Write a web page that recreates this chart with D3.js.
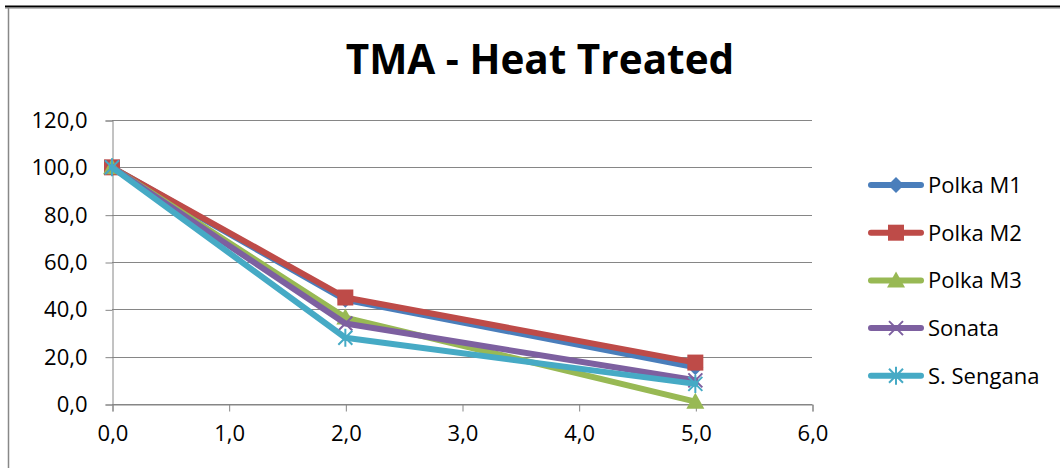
<!DOCTYPE html>
<html>
<head>
<meta charset="utf-8">
<script src="https://cdn.jsdelivr.net/npm/d3@7"></script>
<style>
  body { margin: 0; background: #fff; }
  text { font-family: "Open Sans", "Liberation Sans", sans-serif; fill: #000; }
</style>
</head>
<body>
<div id="chart"></div>
<script>
// data
var xValues = [0, 2, 5];
var seriesNames = ["Polka M1", "Polka M2", "Polka M3", "Sonata", "S. Sengana"];
var polkaM1 = [100, 44, 15.5];
var polkaM2 = [100, 45, 17.5];
var polkaM3 = [100, 36.5, 1];
var sonata = [100, 34, 10];
var sSengana = [100, 28, 8.5];
var xTicks = [0, 1, 2, 3, 4, 5, 6];
var yTicks = [0, 20, 40, 60, 80, 100, 120];

var colors = ["#4A7EBB", "#BE4B48", "#98B954", "#7D60A0", "#46AAC5"];
var markers = ["diamond", "square", "triangle", "cross", "star"];
var allSeries = [polkaM1, polkaM2, polkaM3, sonata, sSengana];

var width = 1060, height = 468;
var svg = d3.select("#chart").append("svg")
    .attr("width", width)
    .attr("height", height);

// chart frame
svg.append("line").attr("x1", 5).attr("x2", width).attr("y1", 6.5).attr("y2", 6.5)
    .attr("stroke", "#000").attr("stroke-width", 2);
svg.append("line").attr("x1", 5).attr("x2", width).attr("y1", 8.5).attr("y2", 8.5)
    .attr("stroke", "#bbb").attr("stroke-width", 1);
svg.append("line").attr("x1", 8.5).attr("x2", 8.5).attr("y1", 8).attr("y2", height)
    .attr("stroke", "#888").attr("stroke-width", 1.5);

// title
svg.append("text")
    .attr("x", 540).attr("y", 74)
    .attr("text-anchor", "middle")
    .style("font-size", "40.5px")
    .style("font-weight", "bold")
    .text("TMA - Heat Treated");

// scales
var x = d3.scaleLinear().domain([0, 6]).range([112, 812]);
var y = d3.scaleLinear().domain([0, 120]).range([404, 120]);
var fmt = function (d) { return d3.format(".1f")(d).replace(".", ","); };

// gridlines
svg.append("g").selectAll("line").data(yTicks).enter().append("line")
    .attr("x1", x(0)).attr("x2", x(6))
    .attr("y1", function (d) { return Math.round(y(d)) + 0.5; })
    .attr("y2", function (d) { return Math.round(y(d)) + 0.5; })
    .attr("stroke", "#868686").attr("stroke-width", 1);

// y axis
var yAxis = svg.append("g")
    .attr("transform", "translate(" + (x(0) + 0.5) + ",0.5)")
    .call(d3.axisLeft(y).tickValues(yTicks).tickFormat(fmt).tickSize(7).tickPadding(18));
// x axis
var xAxis = svg.append("g")
    .attr("transform", "translate(0.5," + (y(0) + 0.5) + ")")
    .call(d3.axisBottom(x).tickValues(xTicks).tickFormat(fmt).tickSize(7).tickPadding(11));

[yAxis, xAxis].forEach(function (ax) {
    ax.select(".domain").attr("stroke", "#868686");
    ax.selectAll(".tick line").attr("stroke", "#868686");
    ax.selectAll("text").style("font-size", "22px").attr("fill", "#000")
        .style("font-family", "'Open Sans', sans-serif");
});
xAxis.selectAll("text").attr("dy", "0.85em");

// marker drawing
function drawMarker(g, type, color) {
    if (type === "diamond") {
        g.append("path").attr("d", "M0,-8L8,0L0,8L-8,0Z").attr("fill", color);
    } else if (type === "square") {
        g.append("rect").attr("x", -8).attr("y", -8).attr("width", 16).attr("height", 16).attr("fill", color);
    } else if (type === "triangle") {
        g.append("path").attr("d", "M0,-9L9,7L-9,7Z").attr("fill", color);
    } else if (type === "cross") {
        g.append("path").attr("d", "M-7,-7L7,7M-7,7L7,-7").attr("stroke", color).attr("stroke-width", 2);
    } else if (type === "star") {
        g.append("path").attr("d", "M-7,-7L7,7M-7,7L7,-7M0,-9L0,9")
            .attr("stroke", color).attr("stroke-width", 2);
    }
}

var line = d3.line()
    .x(function (d, i) { return x(xValues[i]); })
    .y(function (d) { return y(d); });

allSeries.forEach(function (vals, s) {
    svg.append("path")
        .datum(vals)
        .attr("d", line)
        .attr("fill", "none")
        .attr("stroke", colors[s])
        .attr("stroke-width", 6)
        .attr("stroke-linejoin", "round")
        .attr("stroke-linecap", "round");
    vals.forEach(function (v, i) {
        var g = svg.append("g").attr("transform", "translate(" + x(xValues[i]) + "," + y(v) + ")");
        drawMarker(g, markers[s], colors[s]);
    });
});

// legend
var legend = svg.append("g");
seriesNames.forEach(function (name, s) {
    var ly = 185 + s * 47.7;
    var g = legend.append("g").attr("transform", "translate(0," + ly + ")");
    g.append("line").attr("x1", 871).attr("x2", 921).attr("y1", 0).attr("y2", 0)
        .attr("stroke", colors[s]).attr("stroke-width", 6).attr("stroke-linecap", "round");
    var m = g.append("g").attr("transform", "translate(896,0)");
    drawMarker(m, markers[s], colors[s]);
    g.append("text").attr("x", 928).attr("y", 0).attr("dy", "0.36em")
        .style("font-size", "22px").text(name);
});
</script>
</body>
</html>
